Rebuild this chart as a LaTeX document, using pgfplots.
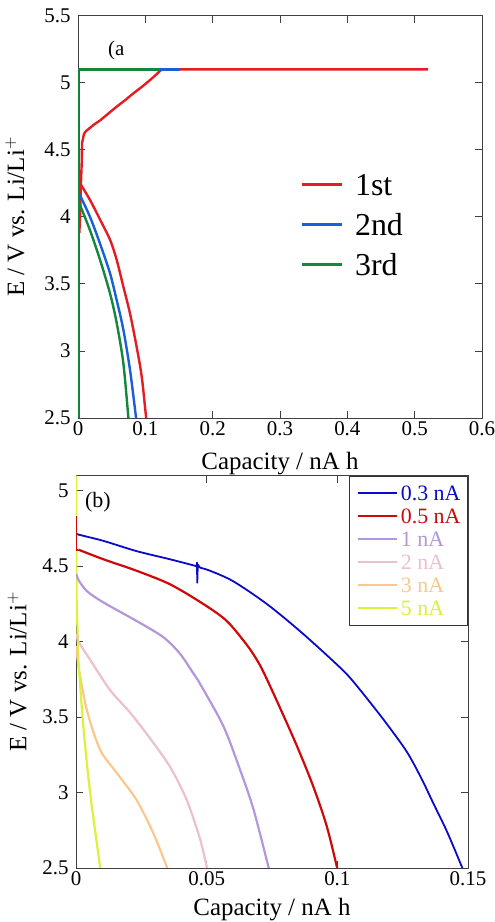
\documentclass[border=0pt]{standalone}
\usepackage{fontspec}
\setmainfont{Liberation Serif}
\usepackage{pgfplots}
\pgfplotsset{compat=1.18}
\definecolor{cred}{RGB}{228,28,35}
\definecolor{cblue}{RGB}{25,95,215}
\definecolor{cgreen}{RGB}{20,135,60}
\definecolor{bblue}{RGB}{10,10,200}
\definecolor{bred}{RGB}{205,10,10}
\definecolor{blav}{RGB}{180,150,220}
\definecolor{bpink}{RGB}{236,192,205}
\definecolor{borange}{RGB}{250,200,140}
\definecolor{byellow}{RGB}{220,240,60}
\pgfplotsset{
  mystyle/.style={
    scale only axis, anchor=south west,
    axis line style={black!75, line width=0.9bp},
    every tick/.style={black!75, line width=0.8bp},
    major tick length=7bp,
    tick align=inside,
    xtick pos=both, ytick pos=both,
    xticklabel pos=lower, yticklabel pos=left,
    /pgf/number format/assume math mode=true,
    tick label style={font=\fontsize{21}{24}\selectfont},
    yticklabel style={xshift=-4bp},
    label style={font=\fontsize{25}{30}\selectfont},
    scaled ticks=false,
    line join=round,
  }
}
\begin{document}
\begin{tikzpicture}
\path[use as bounding box] (0,0) rectangle (495bp,922bp);
% ---------------- (a) ----------------
\begin{axis}[mystyle,
  at={(78bp,504bp)}, width=404bp, height=402.3bp,
  xmin=0, xmax=0.6, ymin=2.5, ymax=5.5,
  xtick={0,0.1,0.2,0.3,0.4,0.5,0.6},
  ytick={2.5,3,3.5,4,4.5,5,5.5},
  xlabel={Capacity / nA h}, ylabel={E / V vs. Li/Li$^+$},
  xlabel style={at={(axis description cs:0.5,-0.112)}, anchor=center},
  ylabel style={at={(axis description cs:-0.156,0.5)}, anchor=center, rotate=0},
  legend cell align=left,
  legend style={at={(axis description cs:0.55,0.631)}, anchor=north west, draw=none, fill=none,
    font=\fontsize{32}{38}\selectfont, inner sep=0pt,
    nodes={inner sep=0pt, text height=31bp, text depth=9bp}},
  legend image code/.code={\draw[#1, line width=3bp] (0bp,0bp) -- (40bp,0bp); \path (52bp,0bp);},
]
\addplot[cred, line width=2.4bp] coordinates {(0.002,3.88)(0.003,4.0)(0.004,4.2)(0.0055,4.4)(0.006,4.55)(0.009,4.62)(0.012,4.64)(0.023,4.685)(0.033,4.72)(0.045,4.77)(0.057,4.82)(0.07,4.87)(0.082,4.92)(0.095,4.97)(0.107,5.02)(0.116,5.06)(0.124,5.1)(0.52,5.1)};
\addlegendentry{1st}
\addplot[cblue, line width=2.4bp] coordinates {(0.001,2.5)(0.001,5.1)(0.152,5.1)};
\addlegendentry{2nd}
\addplot[cgreen, line width=2.4bp] coordinates {(0,2.5)(0,5.1)(0.122,5.1)};
\addlegendentry{3rd}
\addplot[cred, line width=2.4bp, forget plot] coordinates {(0,5.1)(0,4.26)(0.003,4.25)};
\addplot[cred, line width=2.4bp, forget plot, smooth, tension=0.5] coordinates {(0.003,4.25)(0.0178,4.126)(0.0327,3.98)(0.0475,3.83)(0.0574,3.68)(0.0673,3.48)(0.0772,3.28)(0.0871,3.03)(0.0946,2.81)(0.101,2.51)(0.1011,2.5)};
\addplot[cblue, line width=2.4bp, forget plot] coordinates {(0,5.1)(0,4.18)(0.003,4.16)};
\addplot[cblue, line width=2.4bp, forget plot, smooth, tension=0.5] coordinates {(0.003,4.16)(0.0178,4.0)(0.0327,3.80)(0.0475,3.58)(0.0574,3.38)(0.0673,3.16)(0.0772,2.86)(0.086,2.51)(0.0861,2.5)};
\addplot[cgreen, line width=2.4bp, forget plot] coordinates {(0,5.1)(0,4.12)(0.002,4.10)};
\addplot[cgreen, line width=2.4bp, forget plot, smooth, tension=0.5] coordinates {(0.002,4.10)(0.0178,3.90)(0.0327,3.68)(0.0475,3.43)(0.0574,3.21)(0.0673,2.91)(0.0747,2.51)(0.0748,2.5)};
\addplot[cgreen, line width=2.4bp, forget plot] coordinates {(0,2.5)(0,5.1)(0.122,5.1)};
\node[anchor=west, font=\fontsize{21}{24}\selectfont, inner sep=0pt] at (axis cs:0.0446,5.237) {(a};
\end{axis}
% ---------------- (b) ----------------
\begin{axis}[mystyle,
  at={(76bp,54bp)}, width=392bp, height=392.3bp,
  xmin=0, xmax=0.15, ymin=2.5, ymax=5.1,
  xtick={0,0.05,0.1,0.15},
  ytick={2.5,3,3.5,4,4.5,5},
  xticklabel style={/pgf/number format/fixed, /pgf/number format/precision=2},
  xlabel={Capacity / nA h}, ylabel={E / V vs. Li/Li$^+$},
  xlabel style={at={(axis description cs:0.5,-0.107)}, anchor=center},
  ylabel style={at={(axis description cs:-0.15,0.5)}, anchor=center, rotate=0},
  legend cell align=left,
  legend style={at={(axis description cs:1,1)}, anchor=north east, draw=black!80, line width=0.9bp, fill=white,
    font=\fontsize{22}{24}\selectfont, inner xsep=7bp, inner ysep=5.5bp,
    nodes={inner sep=0pt, text height=19bp, text depth=4bp}},
  legend image code/.code={\draw[#1] (0bp,0bp) -- (39bp,0bp); \path (42bp,0bp);},
]
\addplot[bblue, line width=1.8bp, smooth, tension=0.5] coordinates {(0,4.72)(0.0009,4.71)(0.0105,4.668)(0.0232,4.60)(0.036,4.546)(0.0462,4.50)};
\addlegendentry{\textcolor{bblue}{0.3 nA}}
\addplot[bred, line width=2.2bp, smooth, tension=0.5] coordinates {(0.0009,4.61)(0.0105,4.546)(0.0232,4.47)(0.036,4.38)(0.0487,4.25)(0.0577,4.137)(0.0653,3.98)(0.0692,3.88)(0.0717,3.80)(0.0768,3.61)(0.0845,3.31)(0.0908,3.04)(0.0959,2.78)(0.0998,2.51)(0.1,2.5)};
\addlegendentry{\textcolor{bred}{0.5 nA}}
\addplot[blav, line width=2.2bp, smooth, tension=0.5] coordinates {(0.0009,4.41)(0.0041,4.336)(0.0105,4.26)(0.0232,4.137)(0.0334,4.03)(0.0398,3.92)(0.0449,3.79)(0.0475,3.72)(0.0564,3.44)(0.0628,3.15)(0.0679,2.89)(0.0736,2.51)(0.0737,2.5)};
\addlegendentry{\textcolor{blav}{1 nA}}
\addplot[bpink, line width=2.2bp, smooth, tension=0.5] coordinates {(0.0009,4.0)(0.0054,3.88)(0.013,3.68)(0.0207,3.53)(0.0283,3.36)(0.036,3.17)(0.0424,2.95)(0.0475,2.69)(0.05,2.51)(0.0501,2.5)};
\addlegendentry{\textcolor{bpink}{2 nA}}
\addplot[borange, line width=2.2bp, smooth, tension=0.5] coordinates {(0.0009,3.84)(0.0041,3.55)(0.0092,3.285)(0.0156,3.13)(0.0232,2.95)(0.0296,2.73)(0.0347,2.51)(0.0348,2.5)};
\addlegendentry{\textcolor{borange}{3 nA}}
\addplot[byellow, line width=2.2bp] coordinates {(0,5.1)(0,4.77)(0.0002,4.3)(0.0009,3.88)};
\addlegendentry{\textcolor{byellow}{5 nA}}
% remaining parts of the curves
\addplot[bblue, line width=1.8bp, forget plot] coordinates {(0.0462,4.50)(0.0463,4.525)(0.0464,4.39)(0.0466,4.51)(0.0475,4.49)};
\addplot[bblue, line width=1.8bp, forget plot, smooth, tension=0.5] coordinates {(0.0475,4.49)(0.0513,4.47)(0.0602,4.40)(0.073,4.25)(0.0857,4.07)(0.0985,3.87)(0.1049,3.76)(0.1138,3.57)(0.120,3.43)(0.1266,3.27)(0.132,3.10)(0.1367,2.93)(0.142,2.74)(0.1476,2.51)(0.1478,2.5)};
\addplot[bred, line width=2.2bp, forget plot] coordinates {(0,4.83)(0,4.61)(0.0009,4.61)};
\addplot[blav, line width=2.2bp, forget plot] coordinates {(0,4.45)(0.0009,4.41)};
\addplot[bpink, line width=2.2bp, forget plot] coordinates {(0,4.05)(0.0009,4.0)};
\addplot[borange, line width=2.2bp, forget plot] coordinates {(0,3.97)(0.0009,3.84)};
\addplot[byellow, line width=2.2bp, forget plot, smooth, tension=0.5] coordinates {(0.0009,3.88)(0.0028,3.44)(0.0054,3.0)(0.0092,2.51)(0.0093,2.5)};
\node[anchor=west, font=\fontsize{22}{24}\selectfont, inner sep=0pt] at (axis cs:0.0034,4.925) {(b)};
\end{axis}
\end{tikzpicture}
\end{document}
